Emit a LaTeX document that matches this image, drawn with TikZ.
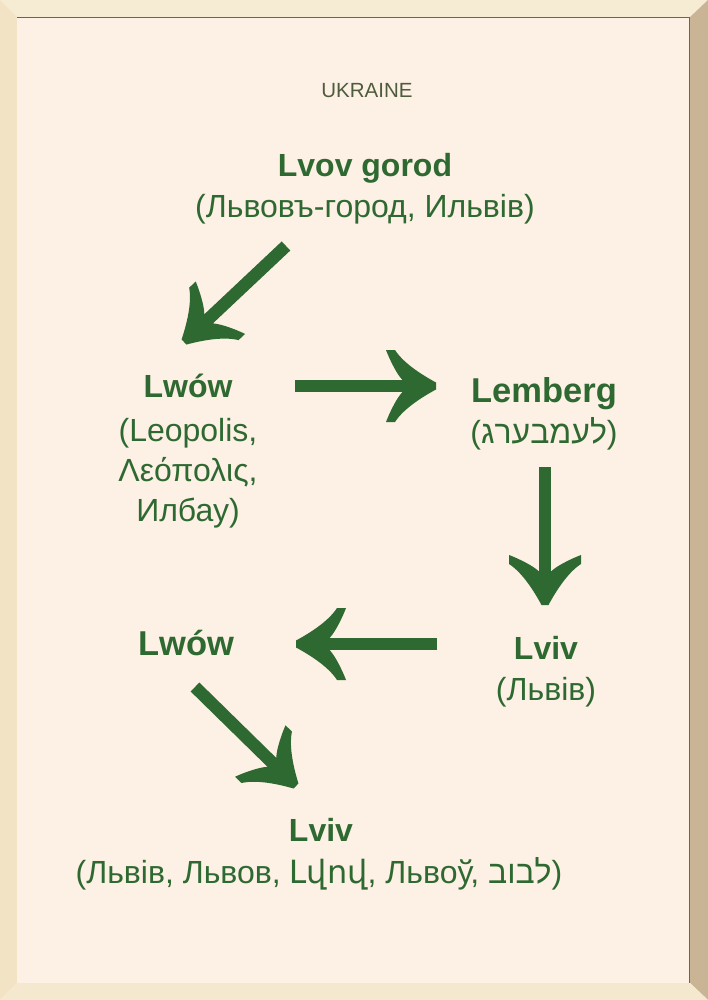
\documentclass[tikz,border=0pt]{standalone}
\usepackage{fontspec}
\setmainfont{Liberation Sans}
\newfontfamily\hebfont[Script=Hebrew]{Liberation Sans}
\newfontfamily\armfont{DejaVu Sans}
\TeXXeTstate=1
\usetikzlibrary{decorations.markings}
\definecolor{bg}{RGB}{253,240,228}
\definecolor{frametop}{RGB}{246,236,212}
\definecolor{frameleft}{RGB}{241,227,196}
\definecolor{frameright}{RGB}{201,181,150}
\definecolor{framebottom}{RGB}{244,233,206}
\definecolor{edgebrown}{RGB}{150,85,55}
\definecolor{leafgreen}{RGB}{47,105,50}
\definecolor{titlegray}{RGB}{78,92,62}
\begin{document}
\begin{tikzpicture}[x=1pt,y=-1pt,
  bigname/.style={font=\fontsize{32}{38}\selectfont\bfseries, text=leafgreen, anchor=base, inner sep=0pt},
  largename/.style={font=\fontsize{34.5}{40}\selectfont\bfseries, text=leafgreen, anchor=base, inner sep=0pt},
  altname/.style={font=\fontsize{32}{38}\selectfont, text=leafgreen, anchor=base, inner sep=0pt},
  country/.style={font=\fontsize{20.5}{24}\selectfont, text=titlegray, anchor=base, inner sep=0pt},
  bigarrow/.style={draw=leafgreen, line width=12.5pt, shorten >=30pt,
    postaction={decorate, decoration={markings, mark=at position 1 with {\fill[leafgreen] (0,3.5) .. controls (-12,10) and (-32,22) .. (-41,36) -- (-50,36) .. controls (-47,28) and (-40,13) .. (-34,6.5) -- (-34,-6.5) .. controls (-40,-13) and (-47,-28) .. (-50,-36) -- (-41,-36) .. controls (-32,-22) and (-12,-10) .. (0,-3.5) -- cycle;}}}}
]
\useasboundingbox (0,0) rectangle (708,1000);
% frame
\fill[frametop] (0,0) -- (708,0) -- (690,17) -- (17,17) -- cycle;
\fill[frameleft] (0,0) -- (17,17) -- (17,983) -- (0,1000) -- cycle;
\fill[frameright] (708,0) -- (708,1000) -- (690,983) -- (690,17) -- cycle;
\fill[framebottom] (0,1000) -- (708,1000) -- (690,983) -- (17,983) -- cycle;
\fill[bg] (17,17) rectangle (690,983);
\draw[edgebrown, line width=1.2pt] (17,17.6) -- (689.4,17.6) -- (689.4,983);

% texts
\node[country] (country) at (367,97.5) {UKRAINE};
\node[bigname] (gorod) at (365,177) {Lvov gorod};
\node[altname] (gorodalt) at (365,218) {(Львовъ-город, Ильвів)};

\node[bigname] (lwowA) at (188,397) {Lwów};
\node[altname] (lwowA1) at (188,441) {(Leopolis,};
\node[altname] (lwowA2) at (188,481) {Λεόπολις,};
\node[altname] (lwowA3) at (188,521) {Илбау)};

\node[largename] (lemberg) at (544,402) {Lemberg};
\node[altname] (lembergalt) at (544,443) {({\hebfont\beginR ל\kern0ptע\kern0ptמ\kern0ptב\kern0ptע\kern0ptר\kern0ptג\endR})};

\node[bigname] (lvivC) at (546,659) {Lviv};
\node[altname] (lvivCalt) at (546,700) {(Львів)};

\node[largename] (lwowB) at (186,655) {Lwów};

\node[bigname] (lvivD) at (321,841) {Lviv};
\node[altname] (lvivDalt) at (319,883) {(Львів, Львов, {\armfont Լվով}, Львоў, {\hebfont\beginR ל\kern0ptב\kern0ptו\kern0ptב\endR})};

% arrows
\coordinate (a1s) at (286,246);
\coordinate (a1e) at (184,342);
\coordinate (a2s) at (295,386);
\coordinate (a2e) at (436,386);
\coordinate (a3s) at (545,467);
\coordinate (a3e) at (545,605);
\coordinate (a4s) at (437,644);
\coordinate (a4e) at (296,644);
\coordinate (a5s) at (195,687);
\coordinate (a5e) at (296,786);
\draw[bigarrow] (a1s) -- (a1e);
\draw[bigarrow] (a2s) -- (a2e);
\draw[bigarrow] (a3s) -- (a3e);
\draw[bigarrow] (a4s) -- (a4e);
\draw[bigarrow] (a5s) -- (a5e);
\end{tikzpicture}
\end{document}
